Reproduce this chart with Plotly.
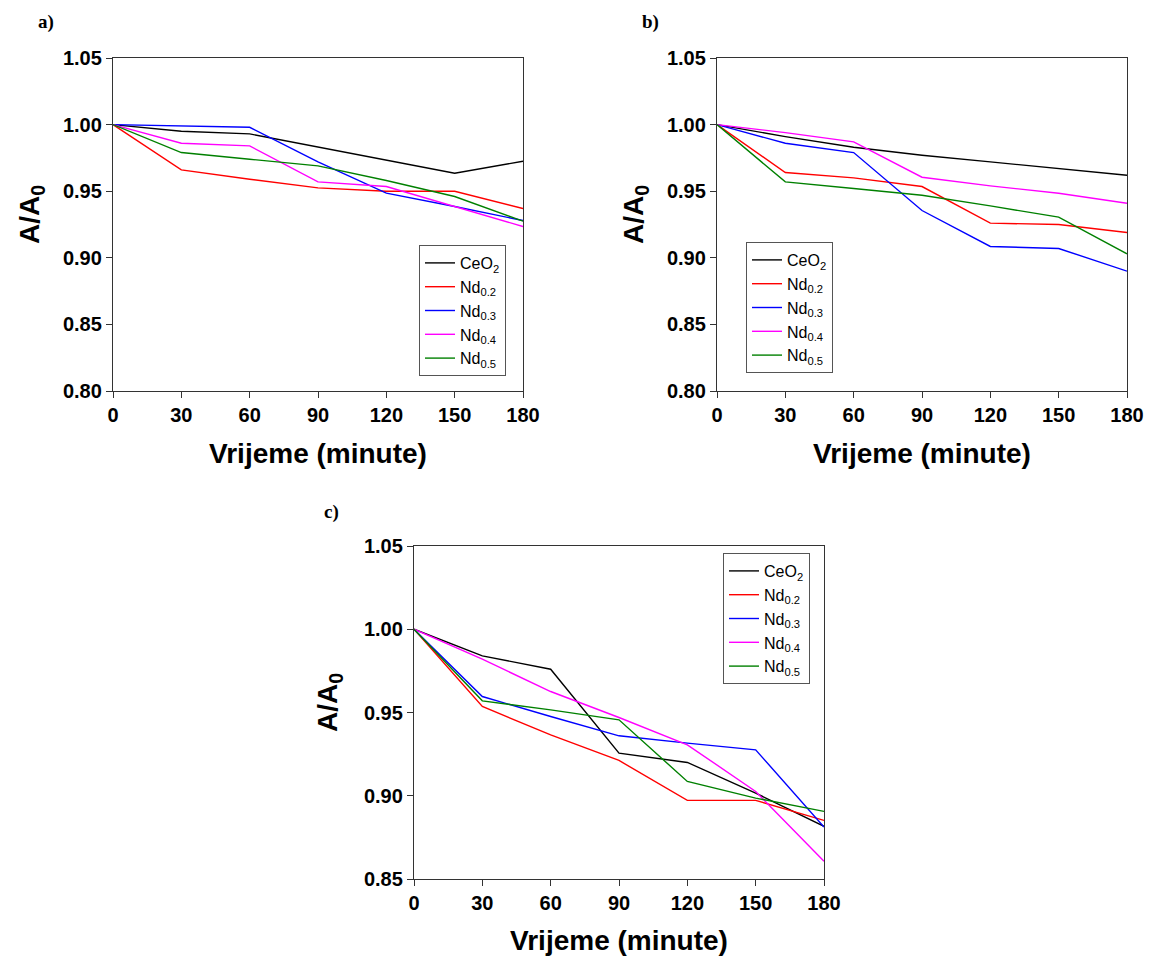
import plotly.graph_objects as go

time_min = [0, 30, 60, 90, 120, 150, 180]
series_names = ["CeO<sub>2</sub>", "Nd<sub>0.2</sub>", "Nd<sub>0.3</sub>", "Nd<sub>0.4</sub>", "Nd<sub>0.5</sub>"]
colors = ["#000000", "#ff0000", "#0000ff", "#ff00ff", "#008000"]
x_title = "Vrijeme (minute)"
y_title = "A/A<sub>0</sub>"

# panel a
a_ceo2 = [1.000, 0.995, 0.993, 0.983, 0.9735, 0.9635, 0.9725]
a_nd02 = [1.000, 0.966, 0.959, 0.9525, 0.950, 0.950, 0.937]
a_nd03 = [1.000, 0.999, 0.998, 0.972, 0.9485, 0.9385, 0.928]
a_nd04 = [1.000, 0.986, 0.984, 0.957, 0.9535, 0.9385, 0.9235]
a_nd05 = [1.000, 0.979, 0.974, 0.969, 0.958, 0.946, 0.9275]

# panel b
b_ceo2 = [1.000, 0.991, 0.983, 0.977, 0.972, 0.967, 0.962]
b_nd02 = [1.000, 0.964, 0.960, 0.9535, 0.926, 0.925, 0.919]
b_nd03 = [1.000, 0.986, 0.979, 0.9355, 0.9085, 0.907, 0.890]
b_nd04 = [1.000, 0.994, 0.987, 0.9605, 0.954, 0.9485, 0.941]
b_nd05 = [1.000, 0.957, 0.952, 0.947, 0.939, 0.9305, 0.903]

# panel c
c_ceo2 = [1.000, 0.984, 0.976, 0.9256, 0.920, 0.9016, 0.8816]
c_nd02 = [1.000, 0.9536, 0.9366, 0.9212, 0.8972, 0.8972, 0.8852]
c_nd03 = [1.000, 0.9596, 0.9476, 0.936, 0.9316, 0.9276, 0.8812]
c_nd04 = [1.000, 0.982, 0.9626, 0.947, 0.9306, 0.9026, 0.8606]
c_nd05 = [1.000, 0.957, 0.9516, 0.9456, 0.9086, 0.8986, 0.8906]

panels = [
    ([a_ceo2, a_nd02, a_nd03, a_nd04, a_nd05], "x", "y", "legend"),
    ([b_ceo2, b_nd02, b_nd03, b_nd04, b_nd05], "x2", "y2", "legend2"),
    ([c_ceo2, c_nd02, c_nd03, c_nd04, c_nd05], "x3", "y3", "legend3"),
]

fig = go.Figure()
for data, xa, ya, lg in panels:
    for name, col, vals in zip(series_names, colors, data):
        fig.add_trace(go.Scatter(x=time_min, y=vals, mode="lines", name=name,
                                 line=dict(color=col, width=1.4),
                                 xaxis=xa, yaxis=ya, legend=lg))

W, H = 1149, 956
def dx(p): return p / W
def dy(p): return 1 - p / H

tickfont = dict(family="Liberation Sans", size=20, color="black", weight="bold")
xtitlefont = dict(family="Liberation Sans", size=28, color="black", weight="bold")
ytitlefont = dict(family="Liberation Sans", size=28, color="black", weight="bold")

def xaxis(x0, x1, anchor):
    return dict(domain=[dx(x0), dx(x1)], range=[0, 180], tickvals=time_min,
                showline=True, linecolor="#333", linewidth=1.3, mirror=True,
                ticks="outside", ticklen=6, tickcolor="#333", showgrid=False, zeroline=False,
                tickfont=tickfont, anchor=anchor, automargin=False, ticklabeloverflow="allow",
                title=dict(text=x_title, font=xtitlefont, standoff=18))

def yaxis(y0, y1, rng, dtick, anchor):
    return dict(domain=[dy(y1), dy(y0)], range=rng, dtick=dtick, tickformat=".2f",
                showline=True, linecolor="#333", linewidth=1.3, mirror=True,
                ticks="outside", ticklen=6, tickcolor="#333", showgrid=False, zeroline=False,
                tickfont=tickfont, anchor=anchor, automargin=False, ticklabeloverflow="allow")

legfont = dict(family="Liberation Sans", size=16, color="black")
def legend(x, y):
    return dict(x=dx(x), y=dy(y), xanchor="left", yanchor="top", bgcolor="white",
                bordercolor="#555", borderwidth=1, font=legfont, tracegroupgap=0,
                itemwidth=30)

fig.update_layout(
    width=W, height=H, margin=dict(l=0, r=0, t=0, b=0, autoexpand=False),
    paper_bgcolor="white", plot_bgcolor="white", showlegend=True,
    xaxis=xaxis(113, 523, "y"), yaxis=yaxis(58, 391, [0.80, 1.05], 0.05, "x"),
    xaxis2=xaxis(717, 1127, "y2"), yaxis2=yaxis(58, 391, [0.80, 1.05], 0.05, "x2"),
    xaxis3=xaxis(414, 824, "y3"), yaxis3=yaxis(546, 879, [0.85, 1.05], 0.05, "x3"),
    legend=legend(419, 245), legend2=legend(746, 242), legend3=legend(723, 553),
)

# y-axis titles (rotated)
for x, y in [(31, 215), (635, 215), (329, 703)]:
    fig.add_annotation(text=y_title, x=dx(x), y=dy(y), xref="paper", yref="paper",
                       showarrow=False, textangle=-90, xanchor="center", yanchor="middle",
                       font=ytitlefont)

labfont = dict(family="Liberation Serif", size=19, color="black", weight="bold")
for txt, x, y in [("a)", 36, 22), ("b)", 640, 22), ("c)", 322, 512)]:
    fig.add_annotation(text=txt, x=dx(x), y=dy(y), xref="paper", yref="paper",
                       showarrow=False, xanchor="left", yanchor="middle", font=labfont)

fig.write_html("out.html", config={"displayModeBar": False},
               post_script="document.body.style.margin='0';document.body.style.overflow='hidden';")
